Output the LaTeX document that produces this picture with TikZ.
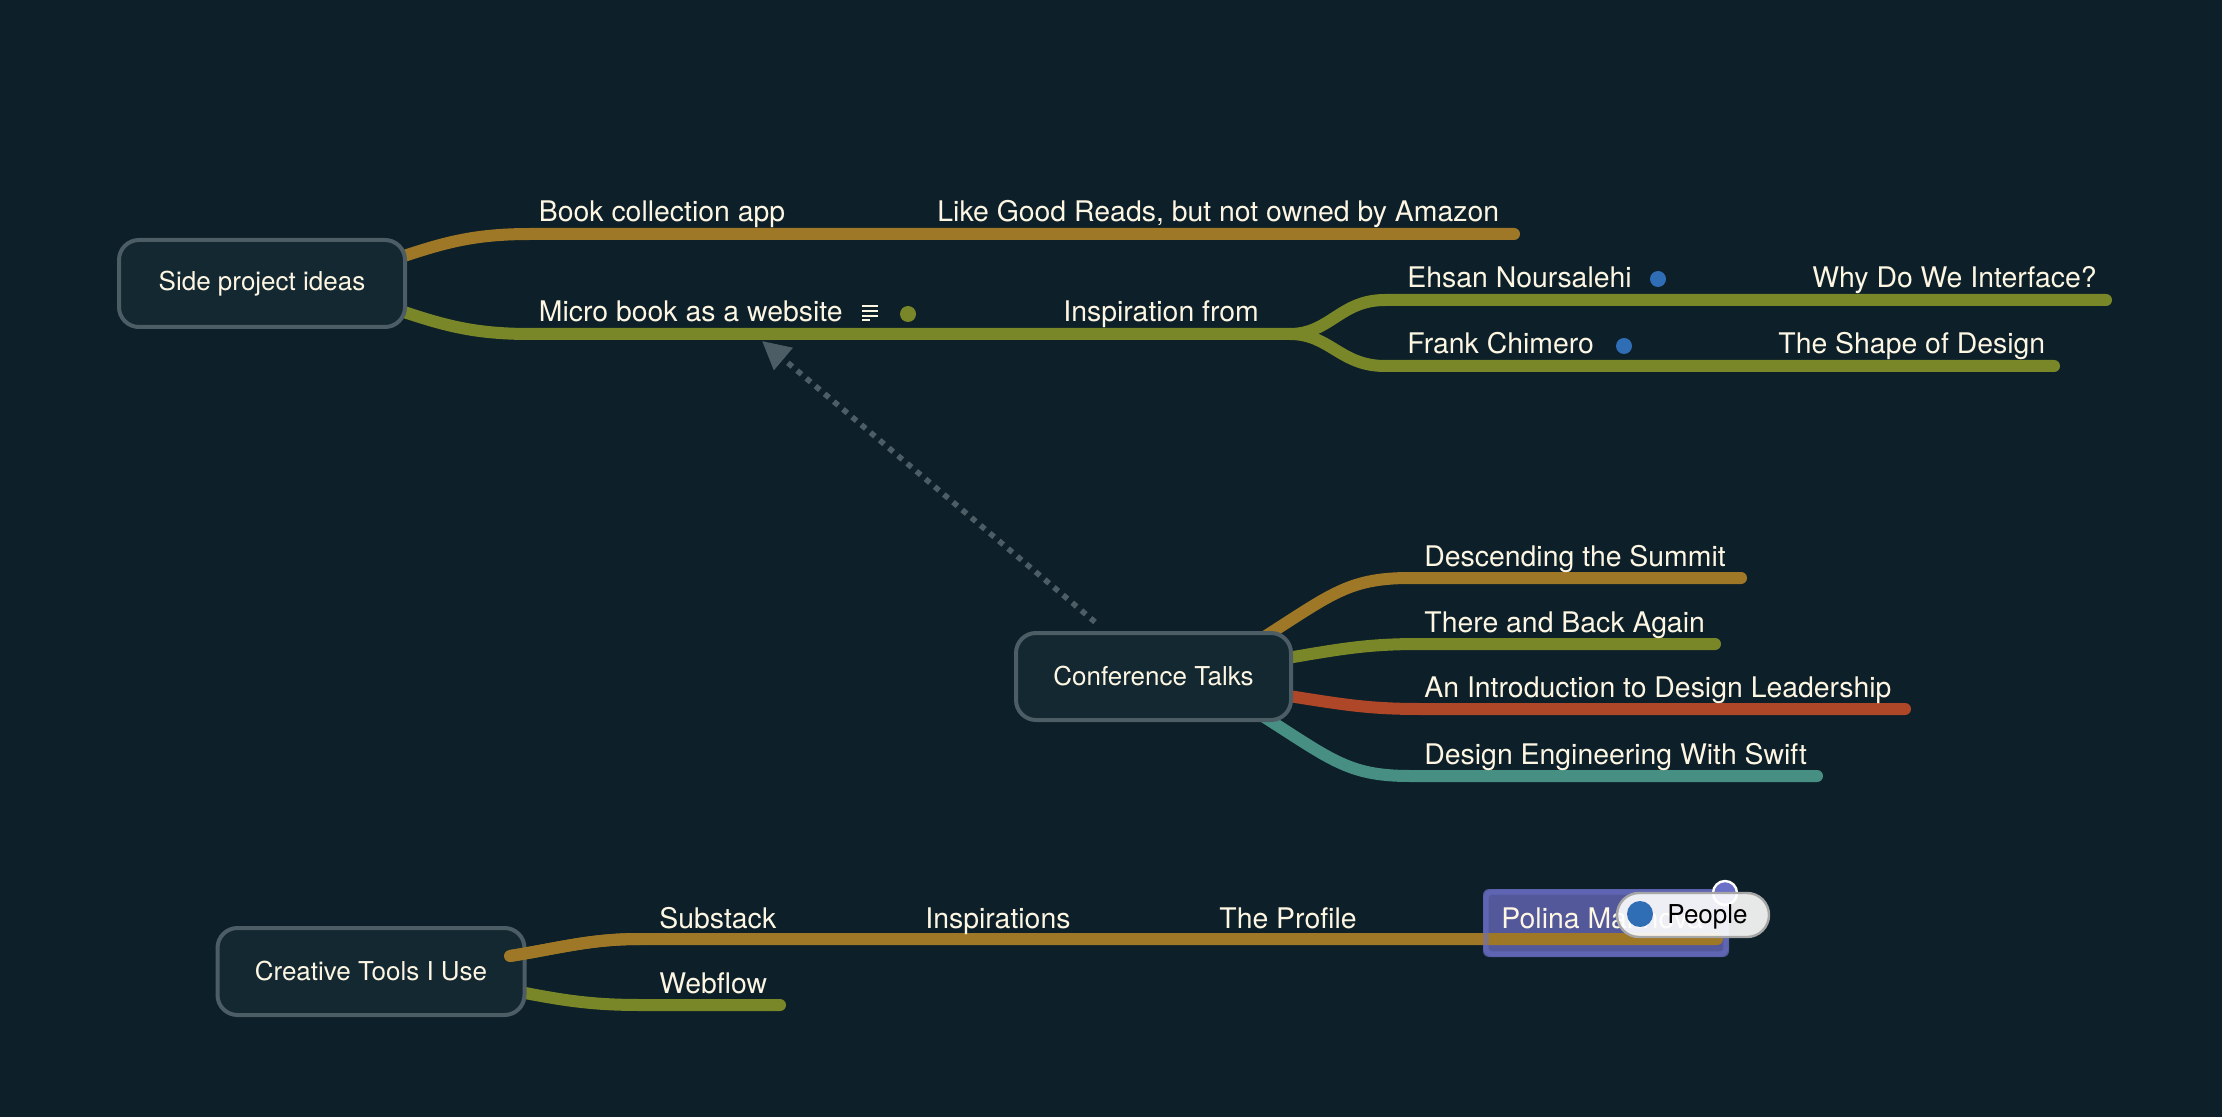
\documentclass[tikz,border=0pt]{standalone}
\usepackage{fontspec}
\setmainfont{TeX Gyre Heros}
\usetikzlibrary{arrows.meta}
\definecolor{bgc}{HTML}{0D1F28}
\definecolor{nodefill}{HTML}{142831}
\definecolor{nodeline}{HTML}{4D5D66}
\definecolor{txt}{HTML}{FDF6E3}
\definecolor{brownb}{HTML}{9E7727}
\definecolor{oliveb}{HTML}{7A8729}
\definecolor{redb}{HTML}{AE4628}
\definecolor{tealb}{HTML}{478F82}
\definecolor{selfill}{HTML}{53589A}
\definecolor{selline}{HTML}{6A6FC8}
\definecolor{dotblue}{HTML}{2F6DB5}
\tikzset{
  x=0.5pt,y=-0.5pt,
  branch/.style={line width=6pt,line cap=round},
  topicbox/.style={draw=nodeline,fill=nodefill,line width=2pt,rounded corners=10pt,inner sep=0pt,text=txt,font=\fontsize{13}{15}\selectfont},
  lab/.style={anchor=base west,inner sep=0pt,text=txt,font=\fontsize{14.2}{16}\selectfont},
  markerdot/.style={circle,inner sep=0pt,minimum size=8pt},
  relation/.style={draw=nodeline,line width=2.8pt,dash pattern=on 2.9pt off 3.1pt,-{Triangle[length=14pt,width=14pt,fill=nodeline]}},
}
\begin{document}
\begin{tikzpicture}
\useasboundingbox[fill=bgc] (0,0) rectangle (2222,1117);
% anchors of the branches
\coordinate (s1a) at (392,260);
\coordinate (s1b) at (392,308);
\coordinate (b1) at (530,234);
\coordinate (b1e) at (1514,234);
\coordinate (b2) at (530,334);
\coordinate (fork) at (1290,334);
\coordinate (e1) at (1385,300);
\coordinate (e1e) at (2106,300);
\coordinate (e2) at (1385,366);
\coordinate (e2e) at (2054,366);
\coordinate (c1s) at (1250,646);
\coordinate (c2s) at (1270,661);
\coordinate (c3s) at (1270,693);
\coordinate (c4s) at (1250,708);
\coordinate (c1) at (1410,578);
\coordinate (c1e) at (1741,578);
\coordinate (c2) at (1420,644);
\coordinate (c2e) at (1715,644);
\coordinate (c3) at (1420,709);
\coordinate (c3e) at (1905,709);
\coordinate (c4) at (1410,776);
\coordinate (c4e) at (1817,776);
\coordinate (t1s) at (510,956);
\coordinate (t2s) at (510,990);
\coordinate (t1) at (640,939);
\coordinate (t1e) at (1717,939);
\coordinate (t2) at (640,1005);
\coordinate (t2e) at (780,1005);
\coordinate (relstart) at (1095,622);
\coordinate (reltip) at (762,341);

% branches
\draw[branch,brownb] (s1a) .. controls (440,244) and (470,234) .. (b1) -- (b1e);
\draw[branch,oliveb] (s1b) .. controls (440,324) and (470,334) .. (b2) -- (fork);
\draw[branch,oliveb] (fork) .. controls (1330,334) and (1340,300) .. (e1) -- (e1e);
\draw[branch,oliveb] (fork) .. controls (1330,334) and (1340,366) .. (e2) -- (e2e);
\draw[branch,brownb] (c1s) .. controls (1330,596) and (1345,578) .. (c1) -- (c1e);
\draw[branch,oliveb] (c2s) .. controls (1340,649) and (1365,644) .. (c2) -- (c2e);
\draw[branch,redb] (c3s) .. controls (1340,704) and (1365,709) .. (c3) -- (c3e);
\draw[branch,tealb] (c4s) .. controls (1330,758) and (1345,776) .. (c4) -- (c4e);
\draw[branch,oliveb] (t2s) .. controls (560,1000) and (590,1005) .. (t2) -- (t2e);

% topics
\node[topicbox,minimum width=143pt,minimum height=43.5pt] (side) at (262,283.5) {Side project ideas};
\node[topicbox,minimum width=137.5pt,minimum height=43.5pt] (conf) at (1153.5,676.5) {Conference Talks};
\node[topicbox,minimum width=153.5pt,minimum height=43.5pt] (tools) at (371,971.5) {Creative Tools I Use};

% selected topic
\fill[selfill,rounded corners=3pt] (1483,889) rectangle (1729,957);
\draw[branch,brownb] (t1s) .. controls (560,948) and (590,939) .. (t1) -- (t1e);
\begin{scope}
\clip (0,0) rectangle (2222,1117);
\draw[branch,brownb,line cap=butt] (t1s) .. controls (560,948) and (590,939) .. (t1);
\end{scope}
\draw[selline,opacity=.55,line width=2.6pt,rounded corners=3pt] (1486,892) rectangle (1726,954);
\node[lab] (polina) at (1501,928) {Polina Marinova};

% relation
\draw[relation] (relstart) -- (reltip);

% labels
\node[lab] (l1) at (538.5,222) {Book collection app};
\node[lab] (l2) at (937,222) {Like Good Reads, but not owned by Amazon};
\node[lab] (l3) at (538.5,322) {Micro book as a website};
\node[lab] (l4) at (1063,322) {Inspiration from};
\node[lab] (l5) at (1407,288) {Ehsan Noursalehi};
\node[lab] (l6) at (1812,288) {Why Do We Interface?};
\node[lab] (l7) at (1407,354) {Frank Chimero};
\node[lab] (l8) at (1778,354) {The Shape of Design};
\node[lab] (l9) at (1424,566) {Descending the Summit};
\node[lab] (l10) at (1424,632) {There and Back Again};
\node[lab] (l11) at (1424,697) {An Introduction to Design Leadership};
\node[lab] (l12) at (1424,764) {Design Engineering With Swift};
\node[lab] (l13) at (659,928) {Substack};
\node[lab] (l14) at (925,928) {Inspirations};
\node[lab] (l15) at (1219,928) {The Profile};
\node[lab] (l16) at (659,993) {Webflow};

% markers
\node[markerdot,fill=oliveb] (m1) at (908,314) {};
\node[markerdot,fill=dotblue] (m2) at (1658,279) {};
\node[markerdot,fill=dotblue] (m3) at (1624,346) {};
\foreach \yy/\xe in {306/878,311/878,316/878,320/870}
  \draw[txt,line width=1pt] (862,\yy) -- (\xe,\yy);

% tooltip
\node[circle,draw=white,fill=selline,line width=1.2pt,minimum size=12pt,inner sep=0pt] (handle) at (1725,893) {};
\node[draw=black!35,fill=white,fill opacity=.9,draw opacity=1,line width=1.2pt,rounded corners=11pt,minimum width=76pt,minimum height=22pt,inner sep=0pt] (pill) at (1693,915) {};
\node[circle,fill=dotblue,minimum size=13pt,inner sep=0pt] (pdot) at (1640,914) {};
\node[anchor=base west,inner sep=0pt,text=black,font=\fontsize{13}{15}\selectfont] (people) at (1667,923) {People};
\end{tikzpicture}
\end{document}
